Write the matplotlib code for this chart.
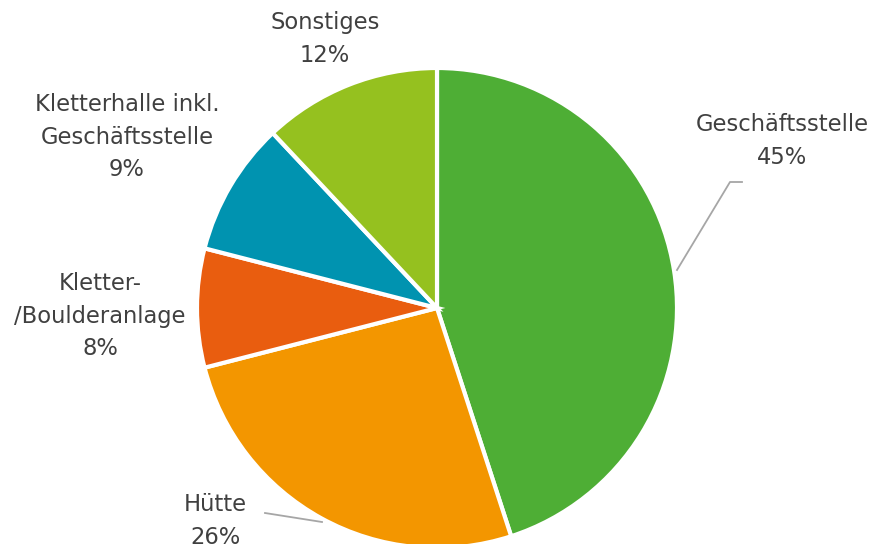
import matplotlib
matplotlib.use("Agg")
import matplotlib.pyplot as plt

# data
labels = ["Geschäftsstelle", "Hütte", "Kletter-\n/Boulderanlage", "Kletterhalle inkl.\nGeschäftsstelle", "Sonstiges"]
values = [45, 26, 8, 9, 12]
colors = ["#4EAE35", "#F39600", "#E95D0F", "#0093B0", "#95C11F"]

W, H = 872, 544
fig = plt.figure(figsize=(W / 100, H / 100), dpi=100)
ax = fig.add_axes([0, 0, 1, 1])

def py(y):
    # pixel row -> data y
    return H - y

cx, cy, r = 437, 308, 240
ax.pie(values, colors=colors, startangle=90, counterclock=False,
       center=(cx, py(cy)), radius=r, frame=True,
       wedgeprops=dict(edgecolor="white", linewidth=3, joinstyle="miter"))
ax.set_xlim(0, W)
ax.set_ylim(0, H)
ax.set_aspect("equal")
ax.axis("off")

# label positions (pixel centers of the text blocks)
label_pos = [(782, 141), (215, 521), (100, 316), (127, 137), (325, 39)]
for lab, v, (x, y) in zip(labels, values, label_pos):
    ax.text(x, py(y), f"{lab}\n{v}%", ha="center", va="center",
            fontsize=16.3, color="#404040", linespacing=1.52,
            family="DejaVu Sans")

# leader lines
ax.plot([677, 730, 742], [py(270), py(182), py(182)], color="#A6A6A6", lw=1.3)
ax.plot([322, 265], [py(522), py(513)], color="#A6A6A6", lw=1.3)

fig.savefig("out.png", dpi=100)
